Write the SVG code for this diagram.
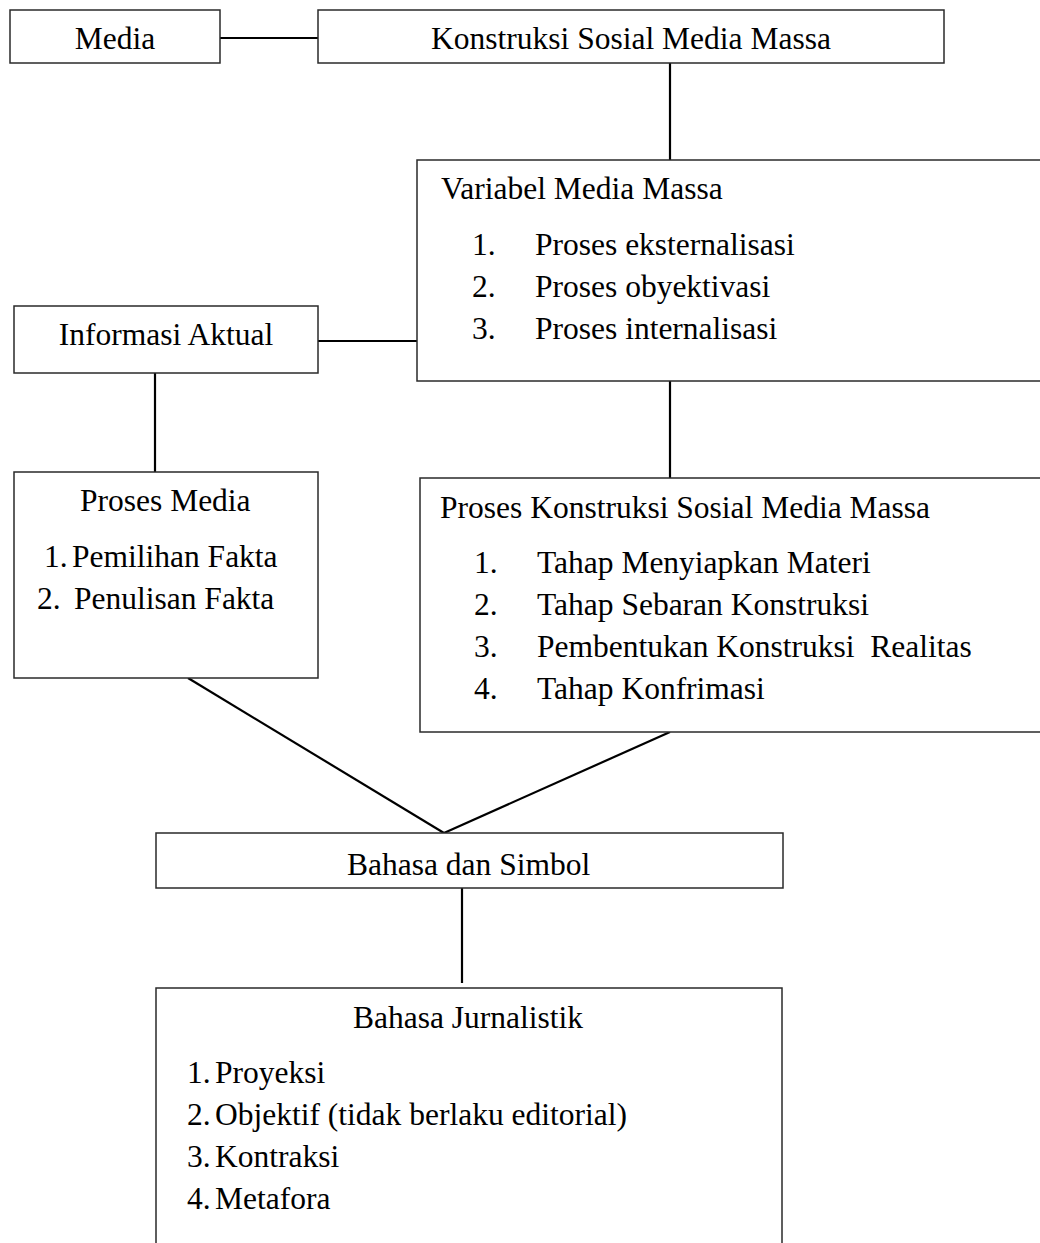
<svg xmlns="http://www.w3.org/2000/svg" width="1040" height="1243" viewBox="0 0 1040 1243">
<style>
.box{fill:#fff;stroke:#2a2a2a;stroke-width:1.5}
.con line{stroke:#000;stroke-width:2.2;fill:none}
text{font-family:"Liberation Serif","Times New Roman",serif;font-size:31.5px;fill:#000}
.c{text-anchor:middle}
</style>
<rect width="1040" height="1243" fill="#fff"/>
<g id="connectors" class="con">
<line x1="220" y1="38" x2="318" y2="38"/>
<line x1="670" y1="63" x2="670" y2="160"/>
<line x1="318" y1="341" x2="417" y2="341"/>
<line x1="155" y1="373" x2="155" y2="472"/>
<line x1="670" y1="381" x2="670" y2="478"/>
<line x1="188" y1="678" x2="444" y2="833"/>
<line x1="670" y1="732" x2="444" y2="833"/>
<line x1="462" y1="888" x2="462" y2="983"/>
</g>
<g id="media">
<rect class="box" x="10" y="10" width="210" height="53"/>
<text class="c" x="115" y="49">Media</text>
</g>
<g id="konstruksi">
<rect class="box" x="318" y="10" width="626" height="53"/>
<text class="c" x="631" y="49">Konstruksi Sosial Media Massa</text>
</g>
<g id="variabel">
<rect class="box" x="417" y="160" width="640" height="221"/>
<text x="441" y="199">Variabel Media Massa</text>
<text x="472" y="255">1.</text><text x="535" y="255">Proses eksternalisasi</text>
<text x="472" y="297">2.</text><text x="535" y="297">Proses obyektivasi</text>
<text x="472" y="339">3.</text><text x="535" y="339">Proses internalisasi</text>
</g>
<g id="informasi">
<rect class="box" x="14" y="306" width="304" height="67"/>
<text class="c" x="166" y="345">Informasi Aktual</text>
</g>
<g id="proses-media">
<rect class="box" x="14" y="472" width="304" height="206"/>
<text x="80" y="511">Proses Media</text>
<text x="44" y="567">1.</text><text x="72" y="567">Pemilihan Fakta</text>
<text x="37" y="609">2.</text><text x="74" y="609">Penulisan Fakta</text>
</g>
<g id="proses-konstruksi">
<rect class="box" x="420" y="478" width="640" height="254"/>
<text x="440" y="518">Proses Konstruksi Sosial Media Massa</text>
<text x="474" y="573">1.</text><text x="537" y="573">Tahap Menyiapkan Materi</text>
<text x="474" y="615">2.</text><text x="537" y="615">Tahap Sebaran Konstruksi</text>
<text x="474" y="657">3.</text><text x="537" y="657" xml:space="preserve">Pembentukan Konstruksi  Realitas</text>
<text x="474" y="699">4.</text><text x="537" y="699">Tahap Konfrimasi</text>
</g>
<g id="bahasa-simbol">
<rect class="box" x="156" y="833" width="627" height="55"/>
<text x="347" y="875">Bahasa dan Simbol</text>
</g>
<g id="bahasa-jurnalistik">
<rect class="box" x="156" y="988" width="626" height="280"/>
<text x="353" y="1028">Bahasa Jurnalistik</text>
<text x="187" y="1083">1.</text><text x="215" y="1083">Proyeksi</text>
<text x="187" y="1125">2.</text><text x="215" y="1125">Objektif (tidak berlaku editorial)</text>
<text x="187" y="1167">3.</text><text x="215" y="1167">Kontraksi</text>
<text x="187" y="1209">4.</text><text x="215" y="1209">Metafora</text>
</g>
</svg>
